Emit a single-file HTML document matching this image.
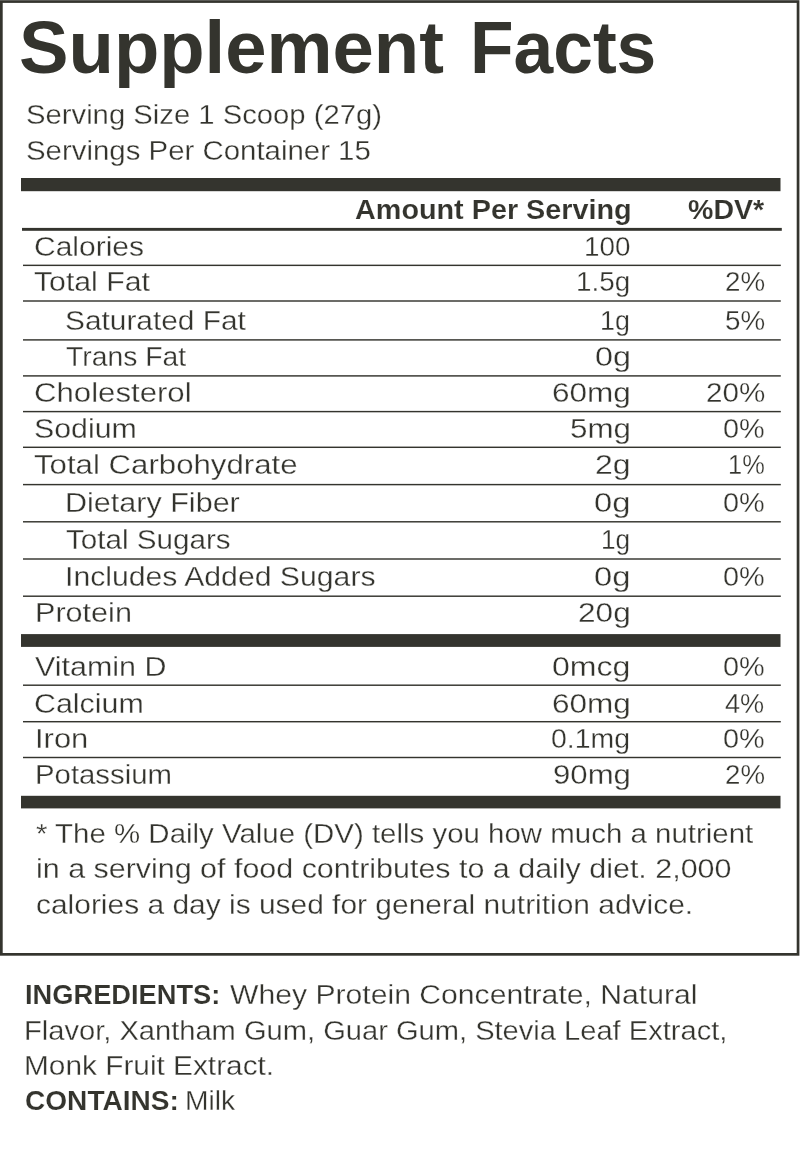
<!DOCTYPE html>
<html lang="en">
<head>
<meta charset="utf-8">
<title>Supplement Facts</title>
<style>
html,body{margin:0;padding:0;background:#fff;}
body{width:800px;height:1156px;position:relative;overflow:hidden;font-family:"Liberation Sans", sans-serif;color:#34342e;}
main,section,h1,p,div{margin:0;padding:0;border:0;font:inherit;}
.frame{position:absolute;left:0;top:0;width:800px;height:1156px;display:block;}
.t{position:absolute;display:block;white-space:nowrap;line-height:1;margin:0;padding:0;font-style:normal;font-weight:400;transform-origin:0 0;-webkit-text-stroke:0.3px #fff;paint-order:fill stroke;}
.b{font-weight:700;-webkit-text-stroke:0.12px #fff;}
.title{-webkit-text-stroke:0;}
</style>
</head>
<body>
<main>
<section class="facts" aria-label="Supplement Facts">
<svg class="frame" width="800" height="1156" viewBox="0 0 800 1156" fill="#34342e" aria-hidden="true">
<rect x="1.35" y="1.55" width="796.70" height="952.80" fill="none" stroke="#34342e" stroke-width="2.7"/>
<rect x="21.00" y="178.00" width="759.50" height="13.20"/>
<rect x="22.00" y="227.90" width="759.80" height="2.90"/>
<rect x="23.00" y="264.63" width="757.80" height="1.44"/>
<rect x="23.00" y="300.28" width="757.80" height="1.44"/>
<rect x="23.00" y="339.18" width="757.80" height="1.44"/>
<rect x="23.00" y="375.18" width="757.80" height="1.44"/>
<rect x="23.00" y="410.88" width="757.80" height="1.44"/>
<rect x="23.00" y="446.58" width="757.80" height="1.44"/>
<rect x="23.00" y="483.88" width="757.80" height="1.44"/>
<rect x="23.00" y="521.08" width="757.80" height="1.44"/>
<rect x="23.00" y="558.28" width="757.80" height="1.44"/>
<rect x="23.00" y="595.48" width="757.80" height="1.44"/>
<rect x="23.00" y="684.48" width="757.80" height="1.44"/>
<rect x="23.00" y="720.98" width="757.80" height="1.44"/>
<rect x="23.00" y="756.78" width="757.80" height="1.44"/>
<rect x="21.00" y="634.10" width="759.50" height="12.80"/>
<rect x="21.00" y="795.80" width="759.50" height="12.60"/>
</svg>
<h1><span class="t b title" style="left:18.54px;top:10px;font-size:75px;transform:scaleX(0.9901)">Supplement</span> <span class="t b title" style="left:469.65px;top:10px;font-size:75px;transform:scaleX(0.9508)">Facts</span></h1>
<p class="serving"><span class="t" style="left:26.39px;top:100px;font-size:28.2px;transform:scaleX(1.0374)">Serving Size 1 Scoop (27g)</span></p>
<p class="serving"><span class="t" style="left:26.38px;top:136px;font-size:28.2px;transform:scaleX(1.0430)">Servings Per Container 15</span></p>
<div class="table" role="table">
<div class="row head" role="row"><span class="t b" style="left:355.33px;top:196px;font-size:28px;transform:scaleX(1.0279)">Amount Per Serving</span><span class="t b" style="left:687.98px;top:196px;font-size:28px;transform:scaleX(1.0198)">%DV*</span></div>
<div class="row" role="row"><span class="t name" style="left:34.16px;top:232px;font-size:28.2px;transform:scaleX(1.0641)">Calories</span><span class="t amt" style="left:583.87px;top:232px;font-size:28.2px;transform:scaleX(0.9860)">100</span></div>
<div class="row" role="row"><span class="t name" style="left:33.81px;top:267px;font-size:28.2px;transform:scaleX(1.0717)">Total Fat</span><span class="t amt" style="left:576.27px;top:267px;font-size:28.2px;transform:scaleX(0.9860)">1.5g</span><span class="t dv" style="left:724.59px;top:267px;font-size:28.2px;transform:scaleX(0.9843)">2%</span></div>
<div class="row sub" role="row"><span class="t name" style="left:65.36px;top:306px;font-size:28.2px;transform:scaleX(1.0588)">Saturated Fat</span><span class="t amt" style="left:600.44px;top:306px;font-size:28.2px;transform:scaleX(0.9526)">1g</span><span class="t dv" style="left:724.60px;top:306px;font-size:28.2px;transform:scaleX(0.9841)">5%</span></div>
<div class="row sub" role="row"><span class="t name" style="left:65.95px;top:342px;font-size:28.2px;transform:scaleX(1.0040)">Trans Fat</span><span class="t amt" style="left:594.69px;top:342px;font-size:28.2px;transform:scaleX(1.1471)">0g</span></div>
<div class="row" role="row"><span class="t name" style="left:34.10px;top:378px;font-size:28.2px;transform:scaleX(1.1052)">Cholesterol</span><span class="t amt" style="left:551.95px;top:378px;font-size:28.2px;transform:scaleX(1.1180)">60mg</span><span class="t dv" style="left:705.69px;top:378px;font-size:28.2px;transform:scaleX(1.0497)">20%</span></div>
<div class="row" role="row"><span class="t name" style="left:34.43px;top:414px;font-size:28.2px;transform:scaleX(1.0754)">Sodium</span><span class="t amt" style="left:569.61px;top:414px;font-size:28.2px;transform:scaleX(1.1114)">5mg</span><span class="t dv" style="left:723.03px;top:414px;font-size:28.2px;transform:scaleX(1.0234)">0%</span></div>
<div class="row" role="row"><span class="t name" style="left:33.89px;top:450px;font-size:28.2px;transform:scaleX(1.1065)">Total Carbohydrate</span><span class="t amt" style="left:595.07px;top:450px;font-size:28.2px;transform:scaleX(1.1342)">2g</span><span class="t dv" style="left:727.85px;top:450px;font-size:28.2px;transform:scaleX(0.9022)">1%</span></div>
<div class="row sub" role="row"><span class="t name" style="left:64.98px;top:488px;font-size:28.2px;transform:scaleX(1.0834)">Dietary Fiber</span><span class="t amt" style="left:594.27px;top:488px;font-size:28.2px;transform:scaleX(1.1612)">0g</span><span class="t dv" style="left:723.03px;top:488px;font-size:28.2px;transform:scaleX(1.0234)">0%</span></div>
<div class="row sub" role="row"><span class="t name" style="left:65.52px;top:525px;font-size:28.2px;transform:scaleX(1.0511)">Total Sugars</span><span class="t amt" style="left:601.09px;top:525px;font-size:28.2px;transform:scaleX(0.9307)">1g</span></div>
<div class="row sub" role="row"><span class="t name" style="left:64.71px;top:562px;font-size:28.2px;transform:scaleX(1.0711)">Includes Added Sugars</span><span class="t amt" style="left:594.27px;top:562px;font-size:28.2px;transform:scaleX(1.1612)">0g</span><span class="t dv" style="left:723.03px;top:562px;font-size:28.2px;transform:scaleX(1.0234)">0%</span></div>
<div class="row" role="row"><span class="t name" style="left:34.97px;top:598px;font-size:28.2px;transform:scaleX(1.0850)">Protein</span><span class="t amt" style="left:578.09px;top:598px;font-size:28.2px;transform:scaleX(1.1206)">20g</span></div>
<div class="row" role="row"><span class="t name" style="left:34.62px;top:652px;font-size:28.2px;transform:scaleX(1.0805)">Vitamin D</span><span class="t amt" style="left:552.30px;top:652px;font-size:28.2px;transform:scaleX(1.1375)">0mcg</span><span class="t dv" style="left:723.03px;top:652px;font-size:28.2px;transform:scaleX(1.0234)">0%</span></div>
<div class="row" role="row"><span class="t name" style="left:33.89px;top:689px;font-size:28.2px;transform:scaleX(1.0776)">Calcium</span><span class="t amt" style="left:551.95px;top:689px;font-size:28.2px;transform:scaleX(1.1180)">60mg</span><span class="t dv" style="left:725.48px;top:689px;font-size:28.2px;transform:scaleX(0.9618)">4%</span></div>
<div class="row" role="row"><span class="t name" style="left:34.64px;top:724px;font-size:28.2px;transform:scaleX(1.0968)">Iron</span><span class="t amt" style="left:551.35px;top:724px;font-size:28.2px;transform:scaleX(1.0090)">0.1mg</span><span class="t dv" style="left:723.03px;top:724px;font-size:28.2px;transform:scaleX(1.0234)">0%</span></div>
<div class="row" role="row"><span class="t name" style="left:35.08px;top:760px;font-size:28.2px;transform:scaleX(1.0410)">Potassium</span><span class="t amt" style="left:552.82px;top:760px;font-size:28.2px;transform:scaleX(1.1053)">90mg</span><span class="t dv" style="left:724.69px;top:760px;font-size:28.2px;transform:scaleX(0.9817)">2%</span></div>
</div>
<p class="note"><span class="t" style="left:36.43px;top:819px;font-size:28.2px;transform:scaleX(1.0444)">* The % Daily Value (DV) tells you how much a nutrient</span> <span class="t" style="left:35.96px;top:854px;font-size:28.2px;transform:scaleX(1.0798)">in a serving of food contributes to a daily diet. 2,000</span> <span class="t" style="left:35.66px;top:890px;font-size:28.2px;transform:scaleX(1.0618)">calories a day is used for general nutrition advice.</span></p>
</section>
<section class="ingredients">
<p><b class="t b" style="left:24.87px;top:981px;font-size:28px;transform:scaleX(0.9736)">INGREDIENTS:</b> <span class="t" style="left:229.69px;top:980px;font-size:28.2px;transform:scaleX(1.0694)">Whey Protein Concentrate, Natural</span> <span class="t" style="left:24.10px;top:1016px;font-size:28.2px;transform:scaleX(1.0322)">Flavor, Xantham Gum, Guar Gum, Stevia Leaf Extract,</span> <span class="t" style="left:24.04px;top:1051px;font-size:28.2px;transform:scaleX(1.0575)">Monk Fruit Extract.</span></p>
<p><b class="t b" style="left:24.77px;top:1087px;font-size:28px;transform:scaleX(1.0025)">CONTAINS:</b> <span class="t" style="left:185.17px;top:1086px;font-size:28.2px;transform:scaleX(1.0018)">Milk</span></p>
</section>
</main>
</body>
</html>
